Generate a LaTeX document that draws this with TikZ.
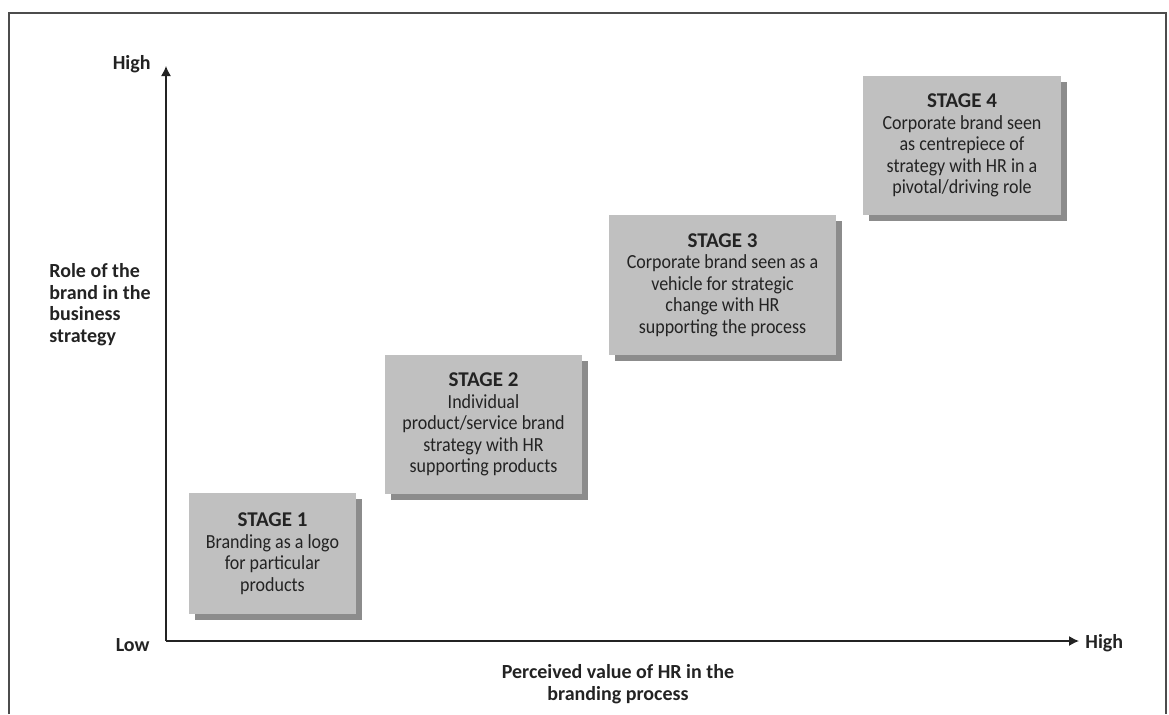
\documentclass[tikz,border=0pt]{standalone}
\usepackage{fontspec}
\setmainfont{Carlito}
\newfontfamily\bodyfont{Carlito}[FakeStretch=0.9]
\usetikzlibrary{arrows.meta,positioning,shadows}
\definecolor{boxgray}{RGB}{192,192,192}
\definecolor{shadegray}{RGB}{140,140,140}
\definecolor{ink}{RGB}{35,35,35}

\begin{document}
\begin{tikzpicture}[x=0.5pt, y=-0.5pt, text=ink,
  font=\fontsize{10}{10.8}\selectfont,
  stage/.style={fill=boxgray, inner sep=0pt, align=center,
    font=\bodyfont\fontsize{10}{10.75}\selectfont,
    drop shadow={shadow xshift=3pt, shadow yshift=-3pt, fill=shadegray, opacity=1}},
  axlbl/.style={font=\fontsize{10}{10.85}\selectfont\bfseries, inner sep=0pt},
  axis/.style={draw=ink, line width=0.65pt, -{Latex[length=5pt,width=5pt]}}]
\newcommand\stagetitle[1]{{\fontsize{10.5}{10.75}\selectfont\rmfamily\bfseries STAGE #1}}
\useasboundingbox (0,0) rectangle (1169,714);
\draw[line width=1pt, draw=black!70] (9,714) -- (9,13) -- (1166,13) -- (1166,714);
\coordinate (o) at (166,641);
\coordinate (ytop) at (166,66);
\coordinate (xend) at (1079,641);
\draw[axis] (o) -- (ytop);
\draw[axis] (o) -- (xend);
\node[axlbl, anchor=east] (yhi) at (151,64) {High};
\node[axlbl, anchor=east] (lo) at (150,645) {Low};
\node[axlbl, anchor=west] (xhi) at (1085,643) {High};
\node[axlbl, anchor=north west, align=left] (role) at (49,263) {Role of the\\brand in the\\business\\strategy};
\node[axlbl, align=center] (perc) at (618,684) {Perceived value of HR in the\\branding process};
\node[stage, minimum width=83.5pt, minimum height=60.5pt] (s1) at (272.5,553.5)
  {\stagetitle{1}\\Branding as a logo\\for particular\\products};
\node[stage, minimum width=98.5pt, minimum height=69.5pt] (s2) at (483.5,424.5)
  {\stagetitle{2}\\Individual\\product/service brand\\strategy with HR\\supporting products};
\node[stage, minimum width=113.5pt, minimum height=70pt] (s3) at (722.5,285)
  {\stagetitle{3}\\Corporate brand seen as a\\vehicle for strategic\\change with HR\\supporting the process};
\node[stage, minimum width=99pt, minimum height=69.5pt] (s4) at (962,145.5)
  {\stagetitle{4}\\Corporate brand seen\\as centrepiece of\\strategy with HR in a\\pivotal/driving role};
\end{tikzpicture}
\end{document}
